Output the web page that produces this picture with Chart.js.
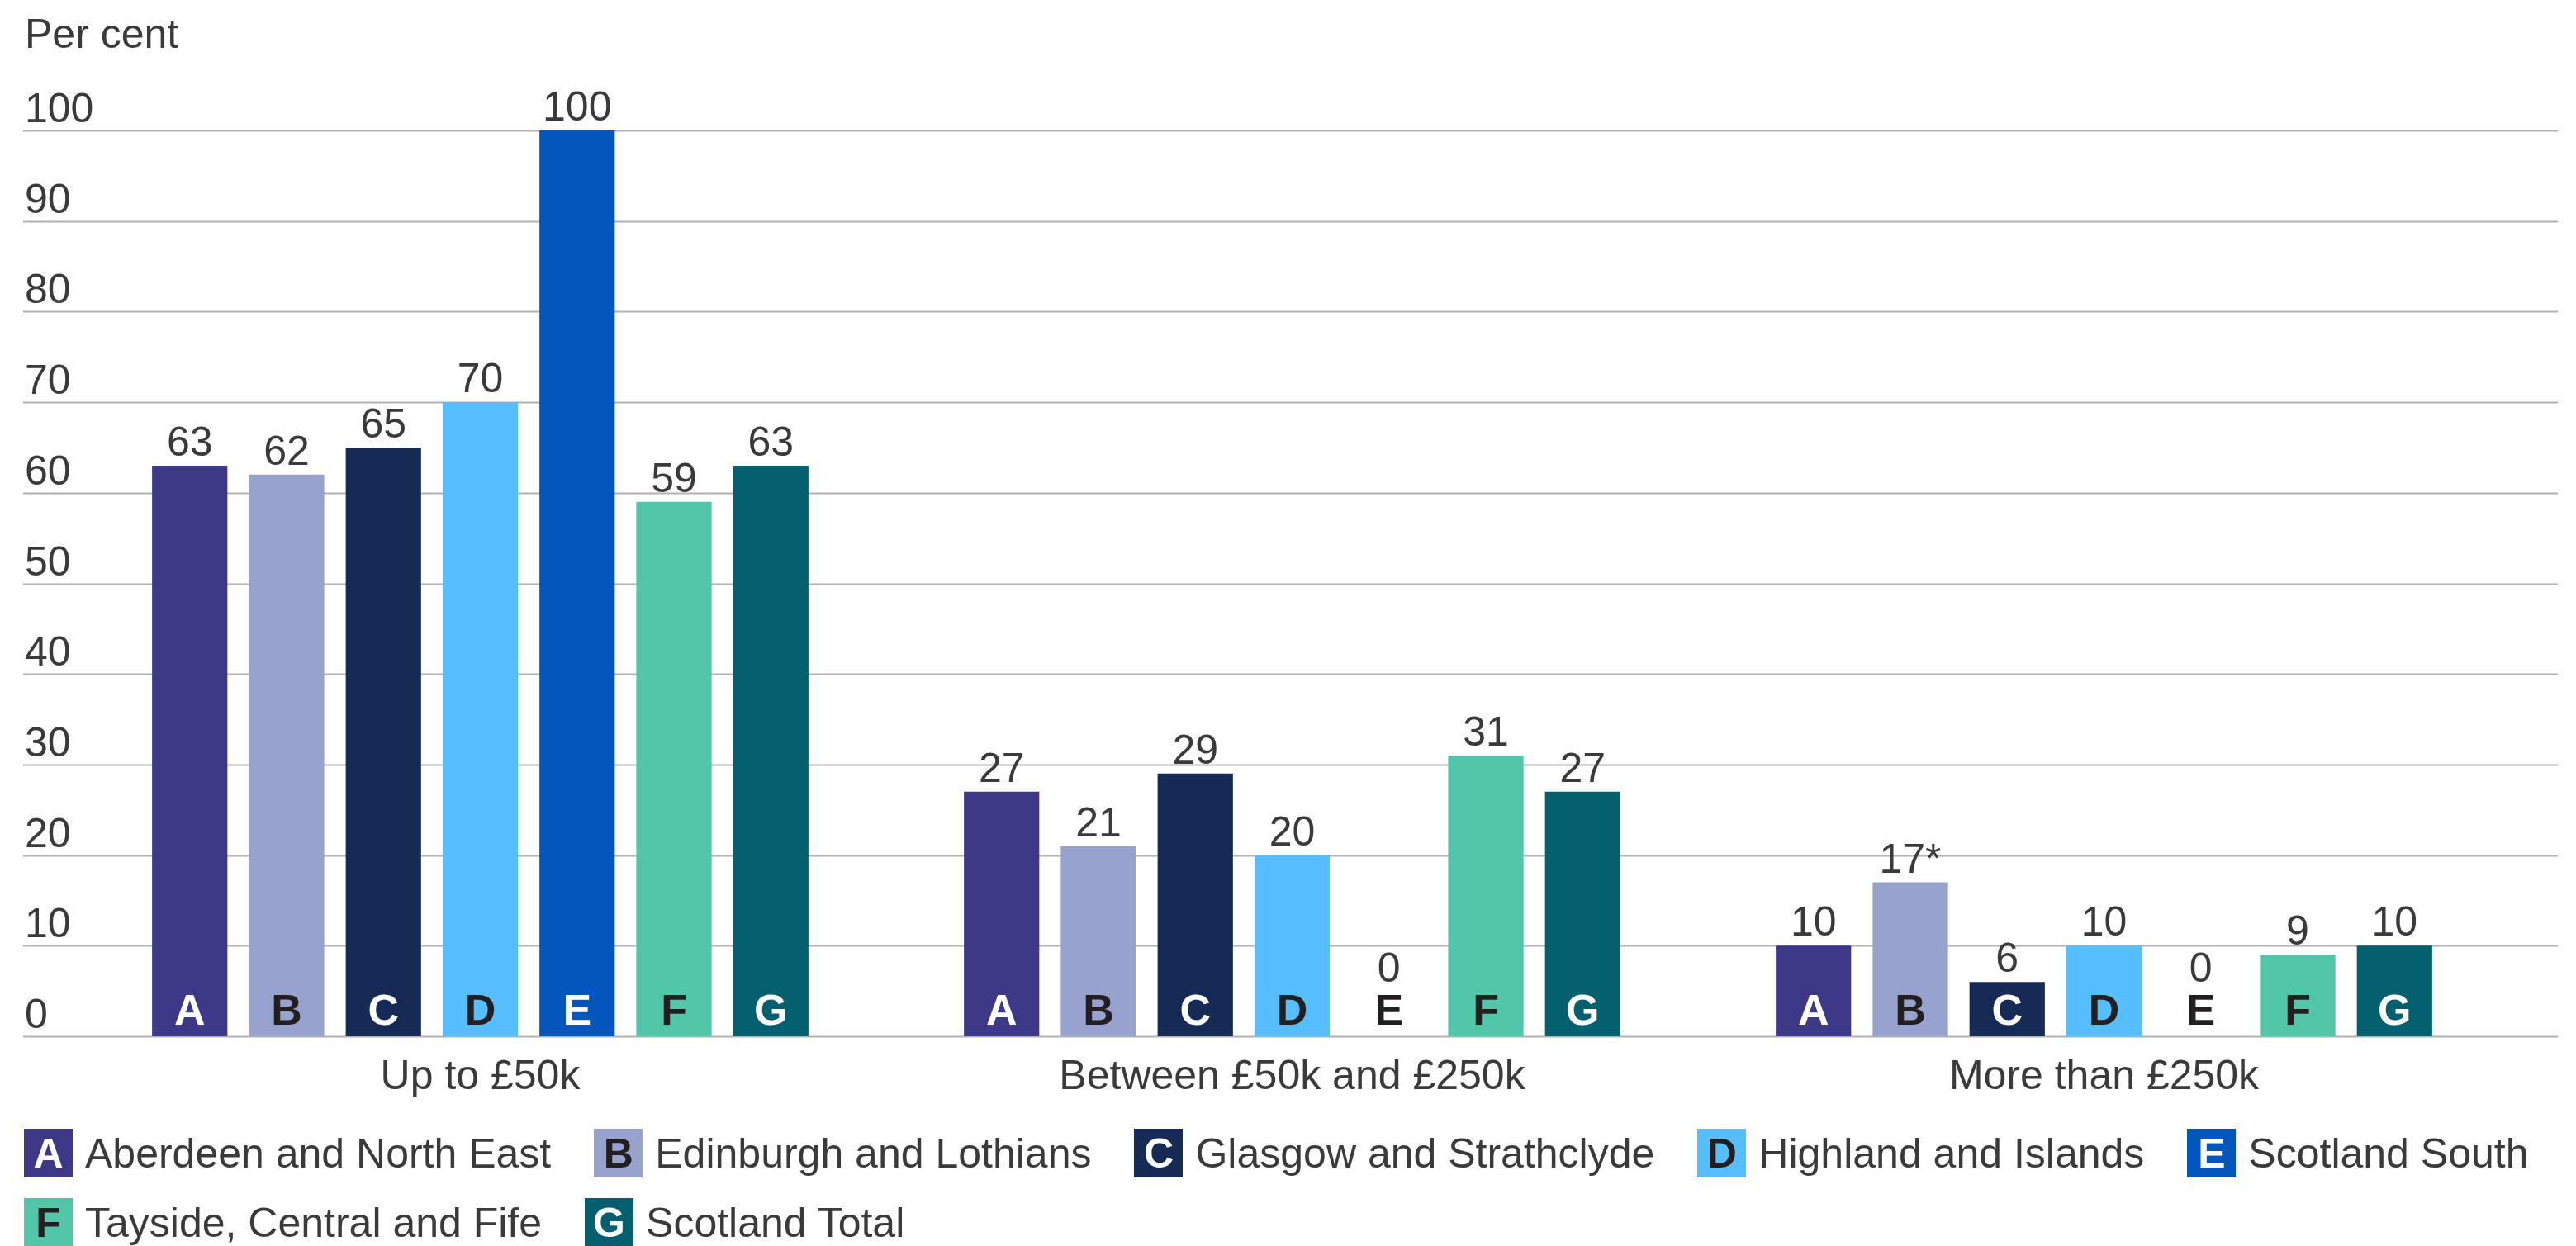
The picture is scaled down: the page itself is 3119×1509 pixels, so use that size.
<!DOCTYPE html>
<html>
<head>
<meta charset="utf-8">
<script src="https://cdn.jsdelivr.net/npm/chart.js@4.4.1/dist/chart.umd.min.js"></script>
<style>
    html, body { margin: 0; padding: 0; background: #fff; }
    body {
        width: 3119px; height: 1509px; position: relative; overflow: hidden;
        font-family: "Liberation Sans", Arial, sans-serif; color: #3a3a3a;
    }
    #unit { position: absolute; left: 30px; top: 11px; font-size: 50px; line-height: 60px; }
    #chartWrap { position: absolute; left: 0; top: 0; width: 3119px; height: 1340px; }
    #legend {
        position: absolute; left: 29px; top: 1367px; width: 3080px;
        display: flex; flex-wrap: wrap; column-gap: 52px; row-gap: 25px;
    }
    .legend-item { display: flex; align-items: center; height: 59px; font-size: 50px; white-space: nowrap; }
    .legend-box {
        width: 59px; height: 59px; margin-right: 15px;
        display: flex; align-items: center; justify-content: center;
        font-weight: bold; font-size: 50px;
    }
</style>
</head>
<body>
<div id="unit">Per cent</div>
<div id="chartWrap"><canvas id="valueBandChart"></canvas></div>
<div id="legend"></div>

<script>
const categories = ['Up to £50k', 'Between £50k and £250k', 'More than £250k'];
const regions = [
    'Aberdeen and North East',
    'Edinburgh and Lothians',
    'Glasgow and Strathclyde',
    'Highland and Islands',
    'Scotland South',
    'Tayside, Central and Fife',
    'Scotland Total'
];
const letters = ['A', 'B', 'C', 'D', 'E', 'F', 'G'];

// share of each region's cases by value band
const aberdeenNorthEast = [63, 27, 10];
const edinburghLothians = [62, 21, 17];
const glasgowStrathclyde = [65, 29, 6];
const highlandIslands = [70, 20, 10];
const scotlandSouth = [100, 0, 0];
const taysideCentralFife = [59, 31, 9];
const scotlandTotal = [63, 27, 10];

// [region, band] pairs whose label carries an asterisk
const starred = [[1, 2]];

const yTicks = [0, 10, 20, 30, 40, 50, 60, 70, 80, 90, 100];

const barColours = ['#3d3987', '#98a2ce', '#162a56', '#57befd', '#0356bb', '#51c6a9', '#04606f'];
const letterColours = ['#ffffff', '#231f20', '#ffffff', '#231f20', '#ffffff', '#231f20', '#ffffff'];
const textColour = '#3a3a3a';
const darkLetter = '#231f20';
const gridColour = '#b2b2b2';
const fontFamily = '"Liberation Sans", Arial, sans-serif';

const seriesValues = [
    aberdeenNorthEast, edinburghLothians, glasgowStrathclyde,
    highlandIslands, scotlandSouth, taysideCentralFife, scotlandTotal
];

function labelFor(i, j) {
    const v = String(seriesValues[i][j]);
    return starred.some(p => p[0] === i && p[1] === j) ? v + '*' : v;
}

// horizontal rules run wider than the bar area; tick values sit on top of them
const wideGrid = {
    id: 'wideGrid',
    beforeDatasetsDraw(chart) {
        const ctx = chart.ctx;
        const y = chart.scales.y;
        ctx.save();
        ctx.strokeStyle = gridColour;
        ctx.lineWidth = 2;
        ctx.fillStyle = textColour;
        ctx.font = '50px ' + fontFamily;
        ctx.textAlign = 'left';
        ctx.textBaseline = 'alphabetic';
        y.ticks.forEach(t => {
            const py = Math.round(y.getPixelForValue(t.value)) + 0.5;
            ctx.beginPath();
            ctx.moveTo(28, py);
            ctx.lineTo(3097, py);
            ctx.stroke();
            ctx.fillText(String(t.value), 30, py - 11);
        });
        ctx.restore();
    }
};

// region letter at the foot of each bar, value above it
const barText = {
    id: 'barText',
    afterDatasetsDraw(chart) {
        const ctx = chart.ctx;
        const base = chart.scales.y.getPixelForValue(0);
        chart.data.datasets.forEach((ds, i) => {
            chart.getDatasetMeta(i).data.forEach((bar, j) => {
                const value = ds.data[j];
                ctx.save();
                ctx.textAlign = 'center';
                ctx.textBaseline = 'alphabetic';
                ctx.font = 'bold 52px ' + fontFamily;
                ctx.fillStyle = value > 0 ? letterColours[i] : darkLetter;
                ctx.fillText(letters[i], bar.x, base - 14);

                ctx.font = '50px ' + fontFamily;
                ctx.fillStyle = textColour;
                const top = Math.min(bar.y, base - 54);
                ctx.fillText(labelFor(i, j), bar.x, top - 12);
                ctx.restore();
            });
        });
    }
};

const datasets = regions.map((name, i) => ({
    label: name,
    data: seriesValues[i],
    backgroundColor: barColours[i],
    borderWidth: 0,
    categoryPercentage: 0.835,
    barPercentage: 0.778
}));

new Chart(document.getElementById('valueBandChart'), {
    type: 'bar',
    data: { labels: categories, datasets: datasets },
    options: {
        responsive: true,
        maintainAspectRatio: false,
        devicePixelRatio: 1,
        animation: false,
        layout: { padding: { left: 30, right: 80, top: 158, bottom: 0 } },
        plugins: {
            legend: { display: false },
            tooltip: { enabled: false }
        },
        scales: {
            x: {
                grid: { display: false, drawTicks: false },
                border: { display: false },
                ticks: {
                    color: textColour,
                    padding: 20,
                    font: { family: fontFamily, size: 50 }
                },
                afterFit(scale) { scale.height = 85; }
            },
            y: {
                min: 0,
                max: 100,
                grid: { display: false, drawTicks: false },
                border: { display: false },
                afterBuildTicks(scale) {
                    scale.ticks = yTicks.map(v => ({ value: v }));
                },
                ticks: { display: false },
                afterFit(scale) { scale.width = 60; }
            }
        }
    },
    plugins: [wideGrid, barText]
});

// legend: lettered swatch plus region name
const legendEl = document.getElementById('legend');
regions.forEach((name, i) => {
    const item = document.createElement('div');
    item.className = 'legend-item';
    const box = document.createElement('span');
    box.className = 'legend-box';
    box.style.background = barColours[i];
    box.style.color = letterColours[i];
    box.textContent = letters[i];
    const text = document.createElement('span');
    text.textContent = name;
    item.appendChild(box);
    item.appendChild(text);
    legendEl.appendChild(item);
});
</script>
</body>
</html>
